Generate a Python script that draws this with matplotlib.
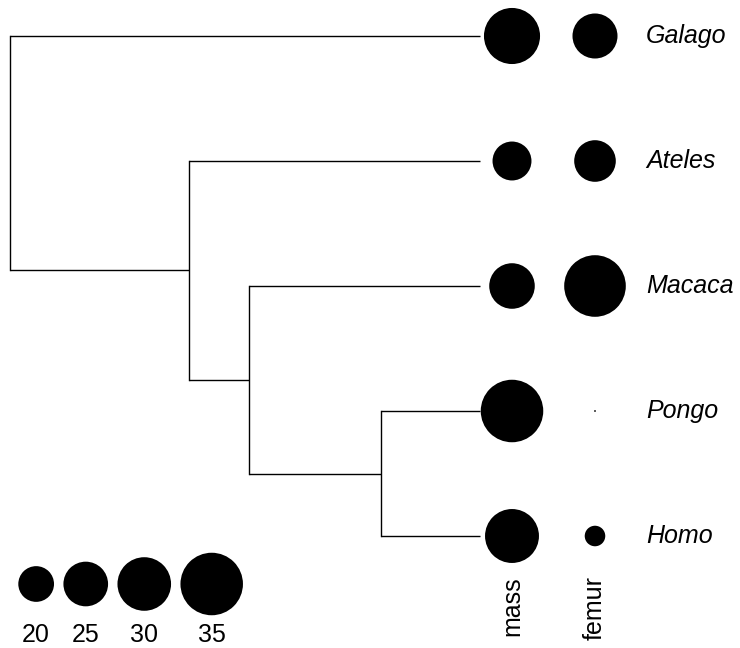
import numpy as np
import matplotlib
matplotlib.use("Agg")
import matplotlib.pyplot as plt

plt.rcParams['font.family'] = ['Liberation Sans', 'DejaVu Sans']

# tip order top to bottom
species = ["Galago", "Ateles", "Macaca", "Pongo", "Homo"]
traits = ["mass", "femur"]
mass = [31.4, 21.8, 25.5, 35.0, 30.2]
femur = [25.2, 23.3, 34.5, 1.0, 11.5]
legend_values = [20, 25, 30, 35]

# tree as nested (child, branch length) pairs, ultrametric with depth 1
tree = [("Galago", 1.0),
        ([("Ateles", 0.62),
          ([("Macaca", 0.491),
            ([("Pongo", 0.211), ("Homo", 0.211)], 0.28)], 0.129)], 0.38)]

DPI = 100
PX = 470.0          # pixels per unit of tree depth
ROW = 125.0         # pixels per tip row
K = 0.893           # dot radius in pixels per trait unit

fig = plt.figure(figsize=(7.4, 6.48), dpi=DPI)
ax = fig.add_axes([0, 0, 1, 1])
ax.set_xlim(-10 / PX, 730 / PX)
ax.set_ylim((648 - 36) / ROW, -36 / ROW)
ax.axis("off")

tip_y = {name: i for i, name in enumerate(species)}


def draw(node, x):
    """Draw the clade starting at depth x, return its y position."""
    ys = []
    for child, length in node:
        x1 = x + length
        if isinstance(child, str):
            y = tip_y[child]
        else:
            y = draw(child, x1)
        ax.plot([x, x1], [y, y], color="black", lw=1.0, solid_capstyle="butt")
        ys.append(y)
    ax.plot([x, x], [min(ys), max(ys)], color="black", lw=1.0, solid_capstyle="projecting")
    return (min(ys) + max(ys)) / 2


draw(tree, 0.0)


def size(v):
    r_pt = K * np.asarray(v, dtype=float) * 72 / DPI
    return (2 * r_pt) ** 2


col_x = [(512 - 10) / PX, (595 - 10) / PX]
ypos = np.arange(len(species))
for cx, vals in zip(col_x, [mass, femur]):
    ax.scatter(np.full(len(vals), cx), ypos, s=size(vals), color="black",
               edgecolors="none", zorder=3)

for name, y in tip_y.items():
    ax.text((646 - 10) / PX, y, name, fontsize=18, style="italic",
            ha="left", va="center")

for cx, t in zip(col_x, traits):
    ax.text(cx, (576 - 36) / ROW, t, fontsize=18, rotation=90,
            ha="center", va="top")

# size legend: circles side by side with an equal gap
radii = [K * v for v in legend_values]
centers = []
edge = 18.3
for r in radii:
    centers.append(edge + r)
    edge += 2 * r + 9.4
lx = [(c - 10) / PX for c in centers]
ax.scatter(lx, np.full(len(lx), (584 - 36) / ROW), s=size(legend_values),
           color="black", edgecolors="none", zorder=3)
for x, v in zip(lx, legend_values):
    ax.text(x, (635 - 36) / ROW, str(v), fontsize=18, ha="center", va="center")

fig.savefig("out.png", dpi=DPI)
